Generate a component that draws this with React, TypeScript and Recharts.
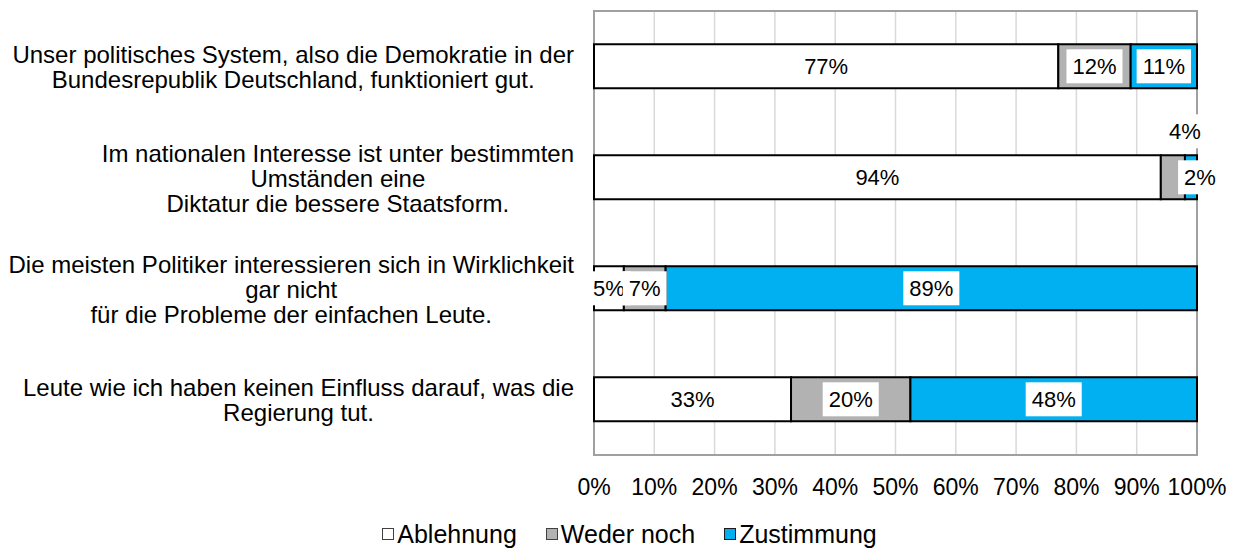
import { BarChart, Bar, XAxis, YAxis, CartesianGrid, Legend, LabelList, ReferenceArea } from 'recharts'

const FONT = '"Liberation Sans", Arial, sans-serif'
const FS_CAT = 24
const FS_TICK = 23
const FS_LABEL = 22
const FS_LEGEND = 25

const questions = [
  ['Unser politisches System, also die Demokratie in der', 'Bundesrepublik Deutschland, funktioniert gut.'],
  ['Im nationalen Interesse ist unter bestimmten', 'Umständen eine', 'Diktatur die bessere Staatsform.'],
  ['Die meisten Politiker interessieren sich in Wirklichkeit', 'gar nicht', 'für die Probleme der einfachen Leute.'],
  ['Leute wie ich haben keinen Einfluss darauf, was die', 'Regierung tut.'],
]
const ablehnung = [77, 94, 5, 33]
const wederNoch = [12, 4, 7, 20]
const zustimmung = [11, 2, 89, 48]
const xTicks = [0, 0.1, 0.2, 0.3, 0.4, 0.5, 0.6, 0.7, 0.8, 0.9, 1]

const series = [
  { key: 'ablehnung', name: 'Ablehnung', fill: '#ffffff', border: '#404040' },
  { key: 'wederNoch', name: 'Weder noch', fill: '#b2b2b2', border: '#404040' },
  { key: 'zustimmung', name: 'Zustimmung', fill: '#00b0f0', border: '#1a1a1a' },
]

const data = questions.map((lines, i) => ({
  frage: lines.join('\n'),
  ablehnung: ablehnung[i],
  wederNoch: wederNoch[i],
  zustimmung: zustimmung[i],
}))

let ctx: CanvasRenderingContext2D | null = null
function textWidth(s: string, size: number) {
  if (!ctx) ctx = document.createElement('canvas').getContext('2d')
  if (!ctx) return s.length * size * 0.5
  ctx.font = `${size}px ${FONT}`
  return ctx.measureText(s).width
}

function QuestionTick({ x, y, payload }: any) {
  const lines: string[] = String(payload.value).split('\n')
  const maxW = Math.max(...lines.map((l) => textWidth(l, FS_CAT)))
  const cx = x - maxW / 2
  const lh = 25
  const y0 = y - ((lines.length - 1) * lh) / 2
  return (
    <text x={cx} y={y0} textAnchor="middle" dominantBaseline="central" fontSize={FS_CAT} fill="#000" fontFamily={FONT}>
      {lines.map((l, i) => (
        <tspan key={i} x={cx} y={y0 + i * lh}>
          {l}
        </tspan>
      ))}
    </text>
  )
}

function BoxLabel({ cx, cy, value }: { cx: number; cy: number; value: number }) {
  const label = `${value}%`
  const bw = textWidth(label, FS_LABEL) + 12
  const bh = 34
  return (
    <g>
      <rect x={cx - bw / 2} y={cy - bh / 2} width={bw} height={bh} fill="#ffffff" />
      <text x={cx} y={cy} textAnchor="middle" dominantBaseline="central" fontSize={FS_LABEL} fill="#000" fontFamily={FONT}>
        {label}
      </text>
    </g>
  )
}

// drawn on the last series so every label sits above all bars of its row
function RowLabels(props: any) {
  const { x, y, width, height, index } = props
  const row: any = data[index]
  const vals = series.map((s) => row[s.key] as number)
  const total = vals.reduce((a, b) => a + b, 0)
  const last = vals[vals.length - 1]
  const full = (width * total) / last
  const left = x + width - full
  let acc = 0
  const items = series.map((s, i) => {
    const x0 = left + (acc / total) * full
    const w = (vals[i] / total) * full
    acc += vals[i]
    let cx = x0 + w / 2
    let cy = y + height / 2
    if (w < 30 && s.key === 'wederNoch') {
      cx = x0 + w
      cy = y - 24
    } else if (w < 30 && s.key === 'zustimmung') {
      cx = x0 + w + 3
    }
    return <BoxLabel key={s.key} cx={cx} cy={cy} value={vals[i]} />
  })
  return <g>{items}</g>
}

function LegendContent() {
  return (
    <div
      style={{
        display: 'flex',
        justifyContent: 'center',
        alignItems: 'center',
        gap: 29,
        height: 26,
        fontSize: FS_LEGEND,
        fontFamily: FONT,
        paddingLeft: 62,
      }}
    >
      {series.map((s) => (
        <div key={s.key} style={{ display: 'flex', alignItems: 'center' }}>
          <span style={{ width: 10, height: 10, background: s.fill, border: `1px solid ${s.border}`, marginRight: 3 }} />
          <span>{s.name}</span>
        </div>
      ))}
    </div>
  )
}

export default function App() {
  return (
    <div style={{ position: 'absolute', left: 0, top: 0, fontFamily: FONT }}>
      <BarChart
        width={1239}
        height={549}
        data={data}
        layout="vertical"
        stackOffset="expand"
        barCategoryGap="30%"
        margin={{ top: 11, right: 42, left: 0, bottom: 2 }}
      >
        <CartesianGrid horizontal={false} stroke="#d9d9d9" strokeWidth={1.5} />
        <ReferenceArea x1={0} x2={1} fill="none" stroke="#a0a0a0" strokeWidth={2} />
        <XAxis
          type="number"
          domain={[0, 1]}
          ticks={xTicks}
          tickFormatter={(v: number) => `${Math.round(v * 100)}%`}
          axisLine={false}
          tickLine={false}
          tickSize={0}
          tickMargin={24}
          height={66}
          tick={{ fontSize: FS_TICK, fill: '#000', fontFamily: FONT }}
          interval={0}
        />
        <YAxis
          type="category"
          dataKey="frage"
          width={594}
          axisLine={false}
          tickLine={false}
          tickSize={0}
          tickMargin={20}
          tick={<QuestionTick />}
          interval={0}
        />
        <Legend verticalAlign="bottom" height={26} content={<LegendContent />} />
        {series.map((s, i) => (
          <Bar
            key={s.key}
            dataKey={s.key}
            name={s.name}
            stackId="a"
            fill={s.fill}
            stroke="#000"
            strokeWidth={2}
            isAnimationActive={false}
          >
            {i === series.length - 1 && <LabelList dataKey={s.key} content={(p: any) => <RowLabels {...p} />} />}
          </Bar>
        ))}
      </BarChart>
    </div>
  )
}
